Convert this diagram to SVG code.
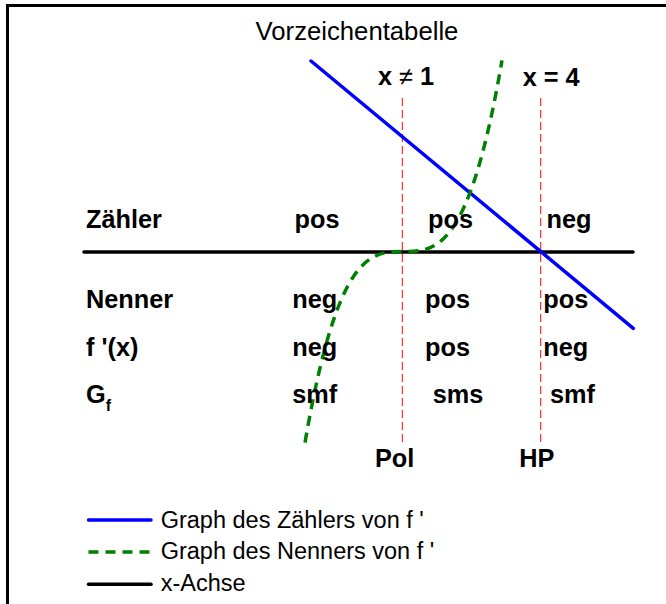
<svg xmlns="http://www.w3.org/2000/svg" width="666" height="604" viewBox="0 0 666 604">
<style>
.b{font-family:"Liberation Sans",Arial,sans-serif;font-weight:bold;font-size:25.3px;fill:#000}
.r{font-family:"Liberation Sans",Arial,sans-serif;font-size:23.5px;fill:#000}
.t{font-family:"Liberation Sans",Arial,sans-serif;font-size:25.7px;fill:#000}
.ax{stroke:#000;stroke-width:3.5;fill:none;stroke-linecap:round}
.zl{stroke:#0000ff;stroke-width:3.5;fill:none;stroke-linecap:round}
.nl{stroke:#008000;stroke-width:3.5;fill:none;stroke-dasharray:10 7}
.rd{stroke:#ff0000;stroke-width:1;fill:none;stroke-dasharray:8 4}
</style>
<rect width="666" height="604" fill="#fff"/>
<path d="M7.5,604 V5.5 H666" stroke="#000" stroke-width="3" fill="none"/>
<g id="title"><text class="t" x="357" y="40" text-anchor="middle">Vorzeichentabelle</text></g>
<g id="connectors">
<line class="rd" x1="402.3" y1="98" x2="402.3" y2="445"/>
<line class="rd" x1="540.7" y1="98" x2="540.7" y2="445"/>
<line class="ax" x1="84" y1="252" x2="633" y2="252"/>
<line class="zl" x1="311" y1="61" x2="633.3" y2="328.3"/>
<path class="nl" d="M305,442.6 C370.67,60.33 436.33,442.67 502,60.4"/>
</g>
<g id="markers">
<text class="b" x="378" y="85">x <tspan font-weight="normal">≠</tspan> 1</text>
<text class="b" x="522.7" y="86">x = 4</text>
<text class="b" x="375" y="467">Pol</text>
<text class="b" x="519.3" y="467">HP</text>
</g>
<g id="row-zaehler">
<text class="b" x="86" y="228">Zähler</text>
<text class="b" x="294.5" y="228">pos</text>
<text class="b" x="428" y="228">pos</text>
<text class="b" x="546.5" y="228">neg</text>
</g>
<g id="row-nenner">
<text class="b" x="86" y="307.5">Nenner</text>
<text class="b" x="292.3" y="307.5">neg</text>
<text class="b" x="425" y="307.5">pos</text>
<text class="b" x="543.3" y="307.5">pos</text>
</g>
<g id="row-fstrich">
<text class="b" x="86" y="356">f '(x)</text>
<text class="b" x="292.3" y="356">neg</text>
<text class="b" x="425" y="356">pos</text>
<text class="b" x="543.3" y="356">neg</text>
</g>
<g id="row-gf">
<text class="b" x="86" y="403">G<tspan font-size="16" dy="8">f</tspan></text>
<text class="b" x="292.3" y="403">smf</text>
<text class="b" x="432.7" y="403">sms</text>
<text class="b" x="550" y="403">smf</text>
</g>
<g id="legend">
<line class="zl" x1="88.5" y1="520" x2="151" y2="520" stroke-linecap="butt"/>
<text class="r" x="160.7" y="527.5">Graph des Zählers von f '</text>
<line class="nl" x1="88.5" y1="552" x2="151" y2="552"/>
<text class="r" x="160.7" y="559">Graph des Nenners von f '</text>
<line class="ax" x1="88.5" y1="584.3" x2="151" y2="584.3" stroke-linecap="butt"/>
<text class="r" x="160.7" y="591">x-Achse</text>
</g>
</svg>
